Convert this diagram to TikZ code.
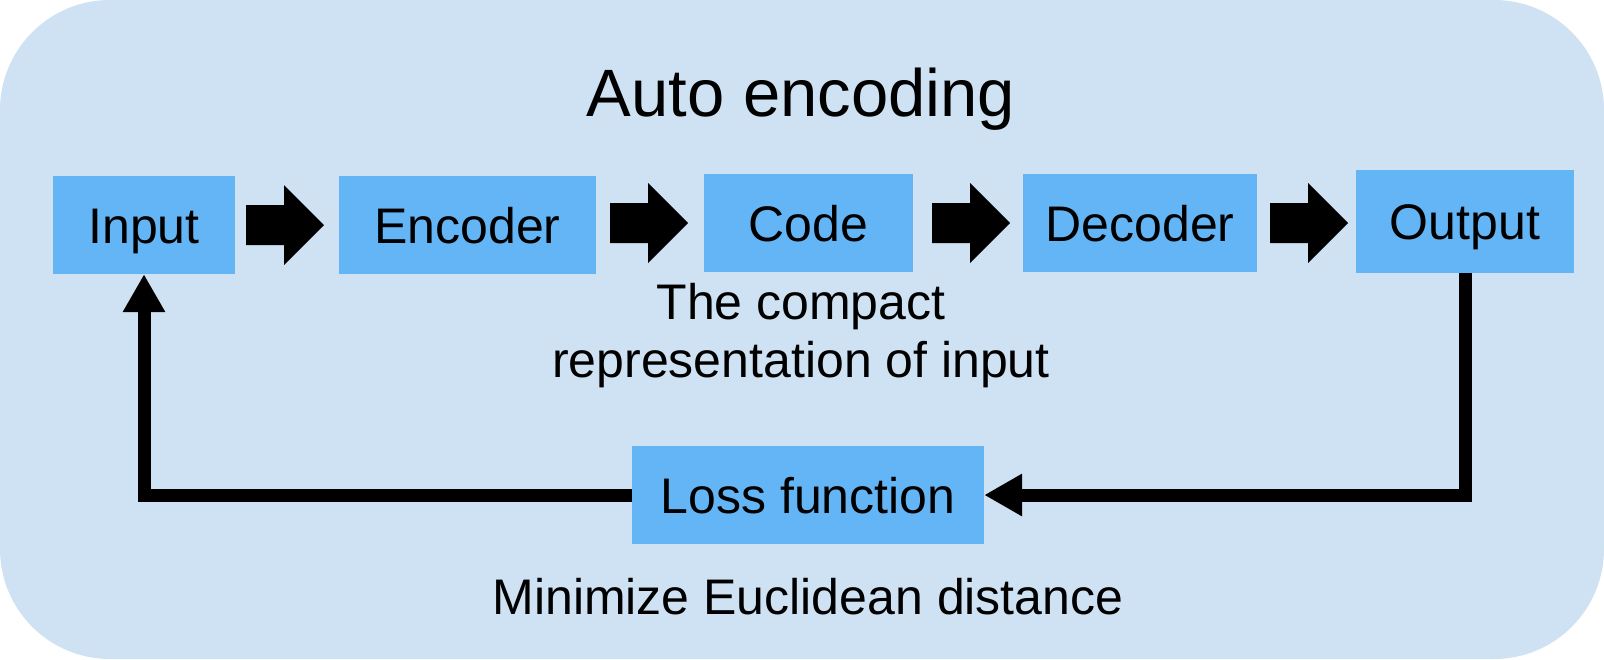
\documentclass[tikz,border=0pt]{standalone}
\usepackage{fontspec}
\setmainfont{Liberation Sans}
\usetikzlibrary{arrows.meta}
\definecolor{bgblue}{HTML}{CFE2F3}
\definecolor{boxblue}{HTML}{64B5F6}
\newcommand\blockarr[2]{%
  \fill[black] ({#1},{#2-20}) -- ({#1+38},{#2-20}) -- ({#1+38},{#2-40}) -- ({#1+78},{#2})
    -- ({#1+38},{#2+40}) -- ({#1+38},{#2+20}) -- ({#1},{#2+20}) -- cycle;}
\begin{document}
\begin{tikzpicture}[x=1pt,y=-1pt,
  box/.style={fill=boxblue, inner sep=0pt, text height=36pt, text depth=0pt,
    minimum height=98pt, font=\fontsize{50}{60}\selectfont},
  lbl/.style={inner sep=0pt, anchor=base, font=\fontsize{50}{60}\selectfont},
  fb/.style={line width=13pt, line join=miter, -{Triangle[length=38pt,width=40pt]}}]
\useasboundingbox (0,0) rectangle (1604,659);
\fill[white] (0,0) rectangle (1604,659);
\fill[bgblue, rounded corners=110pt] (0,0) rectangle (1604,659);

\node[lbl, font=\fontsize{67}{80}\selectfont] (title) at (801,116) {Auto encoding};

\node[box, minimum width=182pt] (input) at (144,225) {Input};
\node[box, minimum width=257pt] (encoder) at (467.5,225) {Encoder};
\node[box, minimum width=209pt] (code) at (808.5,223) {Code};
\node[box, minimum width=234pt] (decoder) at (1140,223) {Decoder};
\node[box, minimum width=218pt, minimum height=103pt] (output) at (1465,221.5) {Output};
\node[box, minimum width=352pt] (loss) at (808,495) {Loss function};

\blockarr{246}{225}
\blockarr{610}{223}
\blockarr{932}{223}
\blockarr{1270}{223}

\node[lbl] (cap1) at (801,319) {The compact};
\node[lbl] (cap2) at (801,377.5) {representation of input};
\node[lbl] (cap3) at (808,614) {Minimize Euclidean distance};

\draw[fb] (output.south) |- (loss.east);
\draw[fb] (loss.west) -| (input.south);
\end{tikzpicture}
\end{document}
